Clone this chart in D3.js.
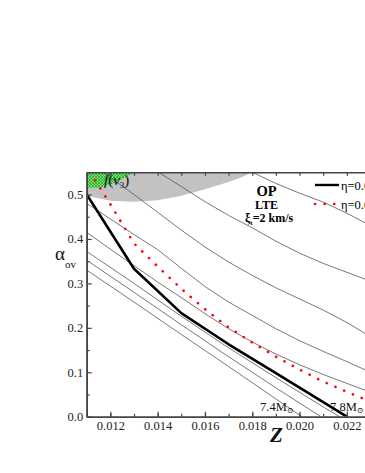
<!DOCTYPE html>
<html>
<head>
<meta charset="utf-8">
<script src="https://cdn.jsdelivr.net/npm/d3@7"></script>
<style>
  html, body { margin: 0; padding: 0; background: #fff; overflow: hidden; }
  svg { display: block; }
  text { font-family: "Liberation Serif", "DejaVu Serif", serif; }
</style>
</head>
<body>
<div id="chart"></div>
<script>
// Z ticks and alpha_ov ticks
const zTicks = [0.012, 0.014, 0.016, 0.018, 0.020, 0.022];
const zMinorTicks = [0.011, 0.012, 0.013, 0.014, 0.015, 0.016, 0.017, 0.018, 0.019, 0.020, 0.021, 0.022, 0.023];
const aTicks = [0.0, 0.1, 0.2, 0.3, 0.4, 0.5];
const aMinorTicks = [0.05, 0.15, 0.25, 0.35, 0.45, 0.55];

// eta = 0.0.. boundaries  [Z, alpha_ov]
const etaSolid = [[0.011, 0.5], [0.013, 0.333], [0.015, 0.233], [0.017, 0.163], [0.019, 0.098], [0.021, 0.033], [0.022, 0.0]];
const etaDotted = [[0.01115, 0.55], [0.012, 0.478], [0.013, 0.39], [0.014, 0.338], [0.015, 0.288], [0.016, 0.242],
  [0.017, 0.201], [0.018, 0.167], [0.019, 0.135], [0.020, 0.106], [0.021, 0.079], [0.022, 0.056], [0.023, 0.034]];

// thin iso-mass tracks
const track1 = [[0.018, 0.55], [0.019, 0.525], [0.020, 0.503], [0.021, 0.483], [0.022, 0.458], [0.023, 0.43]];
const track2 = [[0.01404, 0.55], [0.015, 0.518], [0.016, 0.484], [0.017, 0.453], [0.018, 0.425], [0.019, 0.395],
  [0.020, 0.368], [0.021, 0.345], [0.022, 0.325], [0.023, 0.305]];
const track3 = [[0.0117, 0.55], [0.013, 0.50], [0.014, 0.46], [0.015, 0.42], [0.016, 0.382], [0.017, 0.348],
  [0.018, 0.318], [0.019, 0.29], [0.020, 0.265], [0.021, 0.24], [0.022, 0.212], [0.023, 0.18]];
const track4 = [[0.011, 0.48], [0.012, 0.445], [0.013, 0.41], [0.014, 0.376], [0.015, 0.334], [0.016, 0.293],
  [0.017, 0.258], [0.018, 0.228], [0.019, 0.198], [0.020, 0.171], [0.021, 0.147], [0.022, 0.124], [0.023, 0.10]];
const track5 = [[0.011, 0.415], [0.012, 0.377], [0.013, 0.34], [0.014, 0.303], [0.015, 0.268], [0.016, 0.232],
  [0.017, 0.198], [0.018, 0.168], [0.019, 0.141], [0.020, 0.117], [0.021, 0.095], [0.022, 0.075], [0.023, 0.055]];
const track6 = [[0.011, 0.372], [0.013, 0.30], [0.015, 0.226], [0.017, 0.155], [0.019, 0.088], [0.021, 0.022], [0.0217, 0.0]];
const track7 = [[0.011, 0.352], [0.013, 0.28], [0.015, 0.207], [0.017, 0.135], [0.019, 0.065], [0.0209, 0.0]];
const track8 = [[0.011, 0.33], [0.013, 0.258], [0.015, 0.185], [0.017, 0.113], [0.019, 0.04], [0.0201, 0.0]];
const tracks = [track1, track2, track3, track4, track5, track6, track7, track8];

// shaded zones
const grayZone = [[0.011, 0.55], [0.018, 0.55], [0.0175, 0.538], [0.017, 0.528], [0.016, 0.512], [0.015, 0.497],
  [0.014, 0.487], [0.013, 0.484], [0.012, 0.486], [0.011, 0.497]];
const greenZone = [[0.011, 0.55], [0.013, 0.55], [0.0127, 0.54], [0.01212, 0.525], [0.01156, 0.515], [0.011, 0.515]];

const massLabels = [{ z: 0.01833, text: "7.4M" }, { z: 0.02129, text: "7.8M" }];

const W = 365, H = 473;
const x = d3.scaleLinear().domain([0.011, 0.023]).range([86.7, 370.5]);
const y = d3.scaleLinear().domain([0, 0.55]).range([416.7, 172.3]);

const svg = d3.select('#chart').append('svg').attr('width', W).attr('height', H);

const defs = svg.append('defs');
defs.append('clipPath').attr('id', 'plot-clip')
  .append('rect').attr('x', x(0.011)).attr('y', y(0.55))
  .attr('width', x(0.023) - x(0.011)).attr('height', y(0) - y(0.55));

const pat = defs.append('pattern').attr('id', 'hatch').attr('patternUnits', 'userSpaceOnUse')
  .attr('width', 3).attr('height', 3);
pat.append('rect').attr('width', 3).attr('height', 3).attr('fill', '#6ee36e');
pat.append('path').attr('d', 'M0,0L3,3M3,0L0,3').attr('stroke', '#1f9a1f').attr('stroke-width', 0.6);

const plot = svg.append('g').attr('clip-path', 'url(#plot-clip)');
const area = d3.line().x(d => x(d[0])).y(d => y(d[1]));

plot.append('path').attr('d', area(grayZone) + 'Z').attr('fill', '#c2c2c2');
plot.append('path').attr('d', area(greenZone) + 'Z').attr('fill', 'url(#hatch)');

plot.selectAll('path.track')
  .data(tracks)
  .join('path')
  .attr('class', 'track')
  .attr('d', area)
  .attr('fill', 'none')
  .attr('stroke', '#555')
  .attr('stroke-width', 0.8);

plot.append('path').attr('d', area(etaSolid))
  .attr('fill', 'none').attr('stroke', '#000').attr('stroke-width', 2.6).attr('stroke-linejoin', 'round');

plot.append('path').attr('d', area(etaDotted))
  .attr('fill', 'none').attr('stroke', '#f00').attr('stroke-width', 2.6)
  .attr('stroke-linecap', 'round').attr('stroke-dasharray', '0.1 9.4');

// axes
const axisColor = '#444';
function styleAxis(g) {
  g.attr('font-family', null);
  g.select('.domain').attr('stroke', axisColor).attr('stroke-width', 1.6);
  g.selectAll('.tick line').attr('stroke', axisColor).attr('stroke-width', 1.2);
  g.selectAll('.tick text').attr('fill', '#222').style('font-size', '12.5px')
    .style('font-family', '"Liberation Serif", serif');
}

svg.append('g').attr('transform', `translate(0,${y(0)})`)
  .call(d3.axisBottom(x).tickValues(zMinorTicks).tickSize(-3).tickSizeOuter(0).tickFormat(''))
  .call(styleAxis);
svg.append('g').attr('transform', `translate(0,${y(0)})`)
  .call(d3.axisBottom(x).tickValues(zTicks).tickSize(-5).tickSizeOuter(0).tickPadding(4.5).tickFormat(d3.format('.3f')))
  .call(styleAxis);
svg.append('g').attr('transform', `translate(0,${y(0.55)})`)
  .call(d3.axisTop(x).tickValues(zMinorTicks).tickSize(-3.5).tickSizeOuter(0).tickFormat(''))
  .call(styleAxis);

svg.append('g').attr('transform', `translate(${x(0.011)},0)`)
  .call(d3.axisLeft(y).tickValues(aMinorTicks).tickSize(-3).tickSizeOuter(0).tickFormat(''))
  .call(styleAxis);
svg.append('g').attr('transform', `translate(${x(0.011)},0)`)
  .call(d3.axisLeft(y).tickValues(aTicks).tickSize(-5).tickSizeOuter(0).tickPadding(3.5).tickFormat(d3.format('.1f')))
  .call(styleAxis);

// axis titles
const yt = svg.append('text').attr('x', 55).attr('y', 260).attr('fill', '#111');
yt.append('tspan').style('font-size', '19px').text('α');
yt.append('tspan').attr('dy', 8).style('font-size', '11px').text('ov');

svg.append('text').attr('x', 270).attr('y', 442).attr('fill', '#111')
  .style('font-size', '21px').style('font-weight', 'bold').style('font-style', 'italic').text('Z');

// f(nu3) label
const fl = svg.append('text').attr('x', 104).attr('y', y(0.522)).attr('fill', '#111').style('font-size', '15px');
fl.append('tspan').style('font-style', 'italic').text('f');
fl.append('tspan').text('(');
fl.append('tspan').style('font-style', 'italic').text('ν');
fl.append('tspan').attr('dy', 3).style('font-size', '9px').text('3');
fl.append('tspan').attr('dy', -3).text(')');

// OP / LTE / xi_t block
svg.append('text').attr('x', 266.5).attr('y', 195.5).attr('text-anchor', 'middle')
  .style('font-size', '14.5px').style('font-weight', 'bold').text('OP');
svg.append('text').attr('x', 266.5).attr('y', 208.5).attr('text-anchor', 'middle')
  .style('font-size', '12px').style('font-weight', 'bold').text('LTE');
const xi = svg.append('text').attr('x', 245).attr('y', 221.5).style('font-size', '12px').style('font-weight', 'bold');
xi.append('tspan').text('ξ');
xi.append('tspan').attr('dy', 3).style('font-size', '7px').text('t');
xi.append('tspan').attr('dy', -3).text('=2 km/s');

// legend
svg.append('line').attr('x1', 315).attr('x2', 339).attr('y1', 185).attr('y2', 185)
  .attr('stroke', '#000').attr('stroke-width', 2.4);
svg.append('text').attr('x', 341).attr('y', 189.5).style('font-size', '12.5px').text('η=0.01');
svg.append('line').attr('x1', 315).attr('x2', 339).attr('y1', 204).attr('y2', 204)
  .attr('stroke', '#f00').attr('stroke-width', 2.6).attr('stroke-linecap', 'round').attr('stroke-dasharray', '0.1 9.5');
svg.append('text').attr('x', 341).attr('y', 208.5).style('font-size', '12.5px').text('η=0.05');

// mass labels
massLabels.forEach(m => {
  const t = svg.append('text').attr('x', x(m.z)).attr('y', y(0) - 6).style('font-size', '12.5px').attr('fill', '#111');
  t.append('tspan').text(m.text);
  t.append('tspan').attr('dy', 2.5).style('font-size', '8px').text('⊙');
});
</script>
</body>
</html>
